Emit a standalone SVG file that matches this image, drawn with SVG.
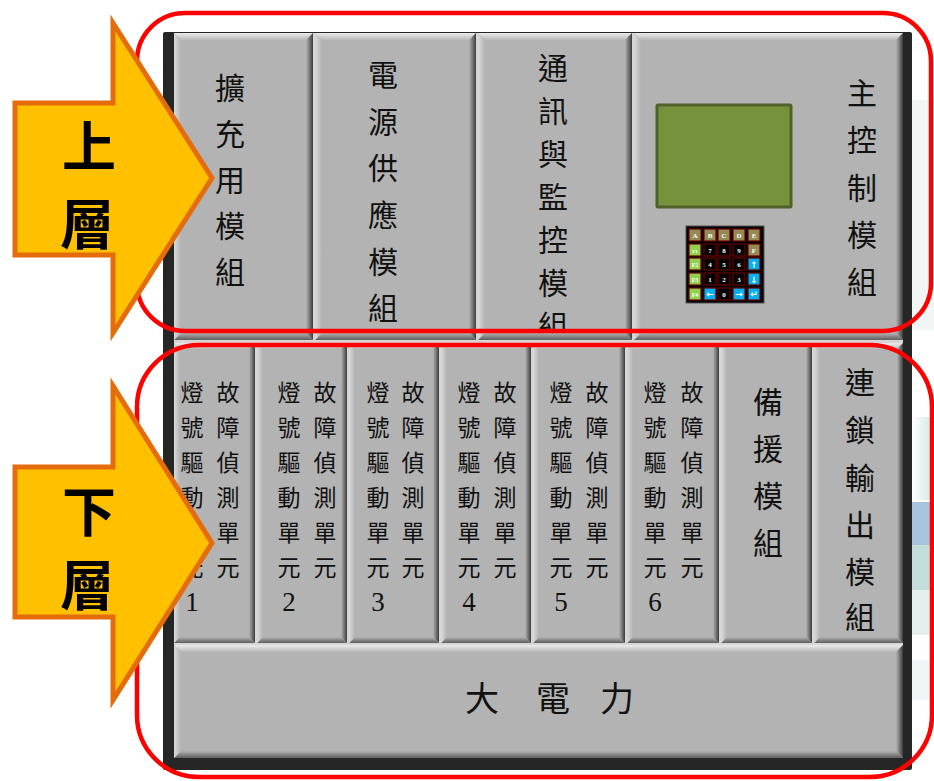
<svg xmlns="http://www.w3.org/2000/svg" width="934" height="781" viewBox="0 0 934 781">
<defs>
<linearGradient id="gT" x1="0" y1="0" x2="0" y2="1"><stop offset="0" stop-color="#ececec"/><stop offset="1" stop-color="#b8b8b8"/></linearGradient>
<linearGradient id="gR" x1="0" y1="0" x2="1" y2="0"><stop offset="0" stop-color="#b3b3b3"/><stop offset="1" stop-color="#3c3c3c"/></linearGradient>
<linearGradient id="gB" x1="0" y1="0" x2="0" y2="1"><stop offset="0" stop-color="#b3b3b3"/><stop offset="1" stop-color="#5e5e5e"/></linearGradient>
<linearGradient id="gL" x1="0" y1="0" x2="1" y2="0"><stop offset="0" stop-color="#dadada"/><stop offset="1" stop-color="#b3b3b3"/></linearGradient>
<linearGradient id="gDeco" x1="0" y1="0" x2="1" y2="0"><stop offset="0" stop-color="#ffffff"/><stop offset="1" stop-color="#cfe5e1"/></linearGradient>
<clipPath id="clipP3"><rect x="478" y="33" width="154" height="298"/></clipPath>
<style>
.pnl{fill:#b3b3b3}
.bt{fill:url(#gT)}
.br{fill:url(#gR)}
.bb{fill:url(#gB)}
.bl{fill:url(#gL)}
.cj{font-family:"Noto Sans CJK TC","Noto Sans CJK SC",sans-serif;fill:#111;text-anchor:middle}
.f30{font-size:30px}
.f24{font-size:23px}
.f34{font-size:34px}
.num{font-family:"Liberation Serif",serif;font-size:27px;fill:#111;text-anchor:middle}
.big{font-family:"Noto Sans CJK TC","Noto Sans CJK SC",sans-serif;font-size:54px;font-weight:bold;fill:#000;text-anchor:middle}
.red{fill:none;stroke:#ff0000;stroke-width:4.5}
.arr{fill:#FFC000;stroke:#E46C0A;stroke-width:5;stroke-linejoin:miter}
.k{stroke:#6b0000;stroke-width:1.2}
.kt{fill:#948A54}
.kg{fill:#92D050}
.kb{fill:#00B0F0}
.kk{fill:#000}
.kx{font-family:"Liberation Serif",serif;font-size:7px;font-weight:bold;fill:#fff;text-anchor:middle}
.ka{font-family:"DejaVu Sans",sans-serif;font-size:9px;font-weight:bold;fill:#fff;text-anchor:middle}
</style>
</defs>

<rect width="934" height="781" fill="#fff"/>

<g id="bg-deco">
<rect x="912" y="100" width="22" height="230" fill="#f1f6f4"/>
<rect x="912" y="417" width="22" height="83" fill="url(#gDeco)"/>
<rect x="912" y="502" width="22" height="43" fill="#a7c3dd"/>
<rect x="912" y="545" width="22" height="45" fill="#c4dfdb"/>
<rect x="912" y="590" width="22" height="45" fill="#e2efed"/>
<rect x="912" y="660" width="22" height="40" fill="#f0f6f5"/>
</g>

<g id="cabinet">
<rect x="163" y="32" width="749" height="738" rx="2" fill="#262626"/>
<rect x="174" y="33" width="729" height="725" fill="#d6d6d6"/>
</g>

<g id="mod-expansion">
<rect class="pnl" x="174" y="33" width="139" height="307"/>
<polygon class="bt" points="174,33 313,33 306,40 181,40"/>
<polygon class="br" points="313,33 313,340 306,333 306,40"/>
<polygon class="bb" points="174,340 313,340 306,333 181,333"/>
<polygon class="bl" points="174,33 181,40 181,333 174,340"/>
<text class="cj f30"><tspan x="230" y="99">擴</tspan><tspan x="230" y="145">充</tspan><tspan x="230" y="191">用</tspan><tspan x="230" y="237">模</tspan><tspan x="230" y="283">組</tspan></text>
</g>

<g id="mod-power">
<rect class="pnl" x="315" y="33" width="161" height="307"/>
<polygon class="bt" points="315,33 476,33 469,40 322,40"/>
<polygon class="br" points="476,33 476,340 469,333 469,40"/>
<polygon class="bb" points="315,340 476,340 469,333 322,333"/>
<polygon class="bl" points="315,33 322,40 322,333 315,340"/>
<text class="cj f30"><tspan x="383" y="86">電</tspan><tspan x="383" y="133">源</tspan><tspan x="383" y="179">供</tspan><tspan x="383" y="226">應</tspan><tspan x="383" y="273">模</tspan><tspan x="383" y="319">組</tspan></text>
</g>

<g id="mod-comm">
<rect class="pnl" x="478" y="33" width="154" height="307"/>
<polygon class="bt" points="478,33 632,33 625,40 485,40"/>
<polygon class="br" points="632,33 632,340 625,333 625,40"/>
<polygon class="bb" points="478,340 632,340 625,333 485,333"/>
<polygon class="bl" points="478,33 485,40 485,333 478,340"/>
<text class="cj f30" clip-path="url(#clipP3)"><tspan x="553" y="79">通</tspan><tspan x="553" y="122">訊</tspan><tspan x="553" y="165">與</tspan><tspan x="553" y="208">監</tspan><tspan x="553" y="251">控</tspan><tspan x="553" y="294">模</tspan><tspan x="553" y="337">組</tspan></text>
</g>

<g id="mod-main">
<rect class="pnl" x="634" y="33" width="269" height="307"/>
<polygon class="bt" points="634,33 903,33 896,40 641,40"/>
<polygon class="br" points="903,33 903,340 896,333 896,40"/>
<polygon class="bb" points="634,340 903,340 896,333 641,333"/>
<polygon class="bl" points="634,33 641,40 641,333 634,340"/>
<rect x="657" y="105" width="134" height="102" rx="1" fill="#77933C" stroke="#4F6228" stroke-width="3"/>
<g id="keypad">
<rect x="686" y="226" width="78" height="77" fill="#000" stroke="#555" stroke-width="1"/>
<rect class="k kt" x="689" y="229" width="12" height="12"/><rect class="k kt" x="704" y="229" width="12" height="12"/><rect class="k kt" x="718" y="229" width="12" height="12"/><rect class="k kt" x="733" y="229" width="12" height="12"/><rect class="k kt" x="748" y="229" width="12" height="12"/>
<rect class="k kg" x="689" y="244" width="12" height="12"/><rect class="k kk" x="704" y="244" width="12" height="12"/><rect class="k kk" x="718" y="244" width="12" height="12"/><rect class="k kk" x="733" y="244" width="12" height="12"/><rect class="k kt" x="748" y="244" width="12" height="12"/>
<rect class="k kg" x="689" y="258" width="12" height="12"/><rect class="k kk" x="704" y="258" width="12" height="12"/><rect class="k kk" x="718" y="258" width="12" height="12"/><rect class="k kk" x="733" y="258" width="12" height="12"/><rect class="k kb" x="748" y="258" width="12" height="12"/>
<rect class="k kg" x="689" y="273" width="12" height="12"/><rect class="k kk" x="704" y="273" width="12" height="12"/><rect class="k kk" x="718" y="273" width="12" height="12"/><rect class="k kk" x="733" y="273" width="12" height="12"/><rect class="k kb" x="748" y="273" width="12" height="12"/>
<rect class="k kg" x="689" y="288" width="12" height="12"/><rect class="k kb" x="704" y="288" width="12" height="12"/><rect class="k kk" x="718" y="288" width="12" height="12"/><rect class="k kb" x="733" y="288" width="12" height="12"/><rect class="k kb" x="748" y="288" width="12" height="12"/>
<text class="kx" x="695" y="237.5">A</text><text class="kx" x="710" y="237.5">B</text><text class="kx" x="724" y="237.5">C</text><text class="kx" x="739" y="237.5">D</text><text class="kx" x="754" y="237.5">E</text>
<text class="kx" x="695" y="252.5" style="font-size:5px">F1</text><text class="kx" x="710" y="252.5">7</text><text class="kx" x="724" y="252.5">8</text><text class="kx" x="739" y="252.5">9</text><text class="kx" x="754" y="252.5">F</text>
<text class="kx" x="695" y="266.5" style="font-size:6px">F2</text><text class="kx" x="710" y="266.5">4</text><text class="kx" x="724" y="266.5">5</text><text class="kx" x="739" y="266.5">6</text><text class="ka" x="754" y="267.5">↑</text>
<text class="kx" x="695" y="281.5" style="font-size:6px">F3</text><text class="kx" x="710" y="281.5">1</text><text class="kx" x="724" y="281.5">2</text><text class="kx" x="739" y="281.5">3</text><text class="ka" x="754" y="282.5">↓</text>
<text class="kx" x="695" y="296.5" style="font-size:6px">F4</text><text class="ka" x="710" y="297">←</text><text class="kx" x="724" y="296.5">0</text><text class="ka" x="739" y="297">→</text><text class="ka" x="754" y="297">↵</text>
</g>
<text class="cj f30"><tspan x="862" y="104">主</tspan><tspan x="862" y="151">控</tspan><tspan x="862" y="199">制</tspan><tspan x="862" y="246">模</tspan><tspan x="862" y="293">組</tspan></text>
</g>

<g id="lamp-unit-1">
<rect class="pnl" x="174" y="343" width="81" height="300"/>
<polygon class="bt" points="174,343 255,343 249,349 180,349"/>
<polygon class="br" points="255,343 255,643 249,637 249,349"/>
<polygon class="bb" points="174,643 255,643 249,637 180,637"/>
<polygon class="bl" points="174,343 180,349 180,637 174,643"/>
<text class="cj f24"><tspan x="192" y="401">燈</tspan><tspan x="192" y="436">號</tspan><tspan x="192" y="471">驅</tspan><tspan x="192" y="506">動</tspan><tspan x="192" y="541">單</tspan><tspan x="192" y="576">元</tspan></text>
<text class="num" x="192" y="611">1</text>
<text class="cj f24"><tspan x="228" y="401">故</tspan><tspan x="228" y="436">障</tspan><tspan x="228" y="471">偵</tspan><tspan x="228" y="506">測</tspan><tspan x="228" y="541">單</tspan><tspan x="228" y="576">元</tspan></text>
</g>

<g id="lamp-unit-2">
<rect class="pnl" x="257" y="343" width="90" height="300"/>
<polygon class="bt" points="257,343 347,343 341,349 263,349"/>
<polygon class="br" points="347,343 347,643 341,637 341,349"/>
<polygon class="bb" points="257,643 347,643 341,637 263,637"/>
<polygon class="bl" points="257,343 263,349 263,637 257,643"/>
<text class="cj f24"><tspan x="289" y="401">燈</tspan><tspan x="289" y="436">號</tspan><tspan x="289" y="471">驅</tspan><tspan x="289" y="506">動</tspan><tspan x="289" y="541">單</tspan><tspan x="289" y="576">元</tspan></text>
<text class="num" x="289" y="611">2</text>
<text class="cj f24"><tspan x="325" y="401">故</tspan><tspan x="325" y="436">障</tspan><tspan x="325" y="471">偵</tspan><tspan x="325" y="506">測</tspan><tspan x="325" y="541">單</tspan><tspan x="325" y="576">元</tspan></text>
</g>

<g id="lamp-unit-3">
<rect class="pnl" x="349" y="343" width="90" height="300"/>
<polygon class="bt" points="349,343 439,343 433,349 355,349"/>
<polygon class="br" points="439,343 439,643 433,637 433,349"/>
<polygon class="bb" points="349,643 439,643 433,637 355,637"/>
<polygon class="bl" points="349,343 355,349 355,637 349,643"/>
<text class="cj f24"><tspan x="378" y="401">燈</tspan><tspan x="378" y="436">號</tspan><tspan x="378" y="471">驅</tspan><tspan x="378" y="506">動</tspan><tspan x="378" y="541">單</tspan><tspan x="378" y="576">元</tspan></text>
<text class="num" x="378" y="611">3</text>
<text class="cj f24"><tspan x="413" y="401">故</tspan><tspan x="413" y="436">障</tspan><tspan x="413" y="471">偵</tspan><tspan x="413" y="506">測</tspan><tspan x="413" y="541">單</tspan><tspan x="413" y="576">元</tspan></text>
</g>

<g id="lamp-unit-4">
<rect class="pnl" x="441" y="343" width="90" height="300"/>
<polygon class="bt" points="441,343 531,343 525,349 447,349"/>
<polygon class="br" points="531,343 531,643 525,637 525,349"/>
<polygon class="bb" points="441,643 531,643 525,637 447,637"/>
<polygon class="bl" points="441,343 447,349 447,637 441,643"/>
<text class="cj f24"><tspan x="469" y="401">燈</tspan><tspan x="469" y="436">號</tspan><tspan x="469" y="471">驅</tspan><tspan x="469" y="506">動</tspan><tspan x="469" y="541">單</tspan><tspan x="469" y="576">元</tspan></text>
<text class="num" x="469" y="611">4</text>
<text class="cj f24"><tspan x="505" y="401">故</tspan><tspan x="505" y="436">障</tspan><tspan x="505" y="471">偵</tspan><tspan x="505" y="506">測</tspan><tspan x="505" y="541">單</tspan><tspan x="505" y="576">元</tspan></text>
</g>

<g id="lamp-unit-5">
<rect class="pnl" x="533" y="343" width="92" height="300"/>
<polygon class="bt" points="533,343 625,343 619,349 539,349"/>
<polygon class="br" points="625,343 625,643 619,637 619,349"/>
<polygon class="bb" points="533,643 625,643 619,637 539,637"/>
<polygon class="bl" points="533,343 539,349 539,637 533,643"/>
<text class="cj f24"><tspan x="561" y="401">燈</tspan><tspan x="561" y="436">號</tspan><tspan x="561" y="471">驅</tspan><tspan x="561" y="506">動</tspan><tspan x="561" y="541">單</tspan><tspan x="561" y="576">元</tspan></text>
<text class="num" x="561" y="611">5</text>
<text class="cj f24"><tspan x="597" y="401">故</tspan><tspan x="597" y="436">障</tspan><tspan x="597" y="471">偵</tspan><tspan x="597" y="506">測</tspan><tspan x="597" y="541">單</tspan><tspan x="597" y="576">元</tspan></text>
</g>

<g id="lamp-unit-6">
<rect class="pnl" x="627" y="343" width="92" height="300"/>
<polygon class="bt" points="627,343 719,343 713,349 633,349"/>
<polygon class="br" points="719,343 719,643 713,637 713,349"/>
<polygon class="bb" points="627,643 719,643 713,637 633,637"/>
<polygon class="bl" points="627,343 633,349 633,637 627,643"/>
<text class="cj f24"><tspan x="655" y="401">燈</tspan><tspan x="655" y="436">號</tspan><tspan x="655" y="471">驅</tspan><tspan x="655" y="506">動</tspan><tspan x="655" y="541">單</tspan><tspan x="655" y="576">元</tspan></text>
<text class="num" x="655" y="611">6</text>
<text class="cj f24"><tspan x="692" y="401">故</tspan><tspan x="692" y="436">障</tspan><tspan x="692" y="471">偵</tspan><tspan x="692" y="506">測</tspan><tspan x="692" y="541">單</tspan><tspan x="692" y="576">元</tspan></text>
</g>

<g id="mod-backup">
<rect class="pnl" x="721" y="343" width="91" height="300"/>
<polygon class="bt" points="721,343 812,343 806,349 727,349"/>
<polygon class="br" points="812,343 812,643 806,637 806,349"/>
<polygon class="bb" points="721,643 812,643 806,637 727,637"/>
<polygon class="bl" points="721,343 727,349 727,637 721,643"/>
<text class="cj f30"><tspan x="768" y="413">備</tspan><tspan x="768" y="460">援</tspan><tspan x="768" y="507">模</tspan><tspan x="768" y="554">組</tspan></text>
</g>

<g id="mod-interlock">
<rect class="pnl" x="814" y="343" width="89" height="300"/>
<polygon class="bt" points="814,343 903,343 897,349 820,349"/>
<polygon class="br" points="903,343 903,643 897,637 897,349"/>
<polygon class="bb" points="814,643 903,643 897,637 820,637"/>
<polygon class="bl" points="814,343 820,349 820,637 814,643"/>
<text class="cj f30"><tspan x="860" y="393">連</tspan><tspan x="860" y="441">鎖</tspan><tspan x="860" y="489">輸</tspan><tspan x="860" y="536">出</tspan><tspan x="860" y="583">模</tspan><tspan x="860" y="628">組</tspan></text>
</g>

<g id="mod-power-large">
<rect class="pnl" x="174" y="645" width="729" height="113"/>
<polygon class="bt" points="174,645 903,645 896,652 181,652"/>
<polygon class="br" points="903,645 903,758 896,751 896,652"/>
<polygon class="bb" points="174,758 903,758 896,751 181,751"/>
<polygon class="bl" points="174,645 181,652 181,751 174,758"/>
<text class="cj f34"><tspan x="482" y="711">大</tspan><tspan x="553" y="711">電</tspan><tspan x="617" y="711">力</tspan></text>
</g>

<g id="layer-boxes">
<rect id="upper-box" class="red" x="137" y="13" width="794" height="318" rx="48"/>
<rect id="lower-box" class="red" x="137" y="345" width="795" height="432" rx="62"/>
</g>

<g id="arrow-upper">
<polygon class="arr" points="15,103 113,103 113,23 212,178 113,333 113,255 15,255"/>
<text class="big"><tspan x="89" y="167">上</tspan><tspan x="87" y="245">層</tspan></text>
</g>

<g id="arrow-lower">
<polygon class="arr" points="15,467 113,467 113,386 212,543 113,700 113,617 15,617"/>
<text class="big"><tspan x="89" y="532">下</tspan><tspan x="87" y="606">層</tspan></text>
</g>
</svg>
